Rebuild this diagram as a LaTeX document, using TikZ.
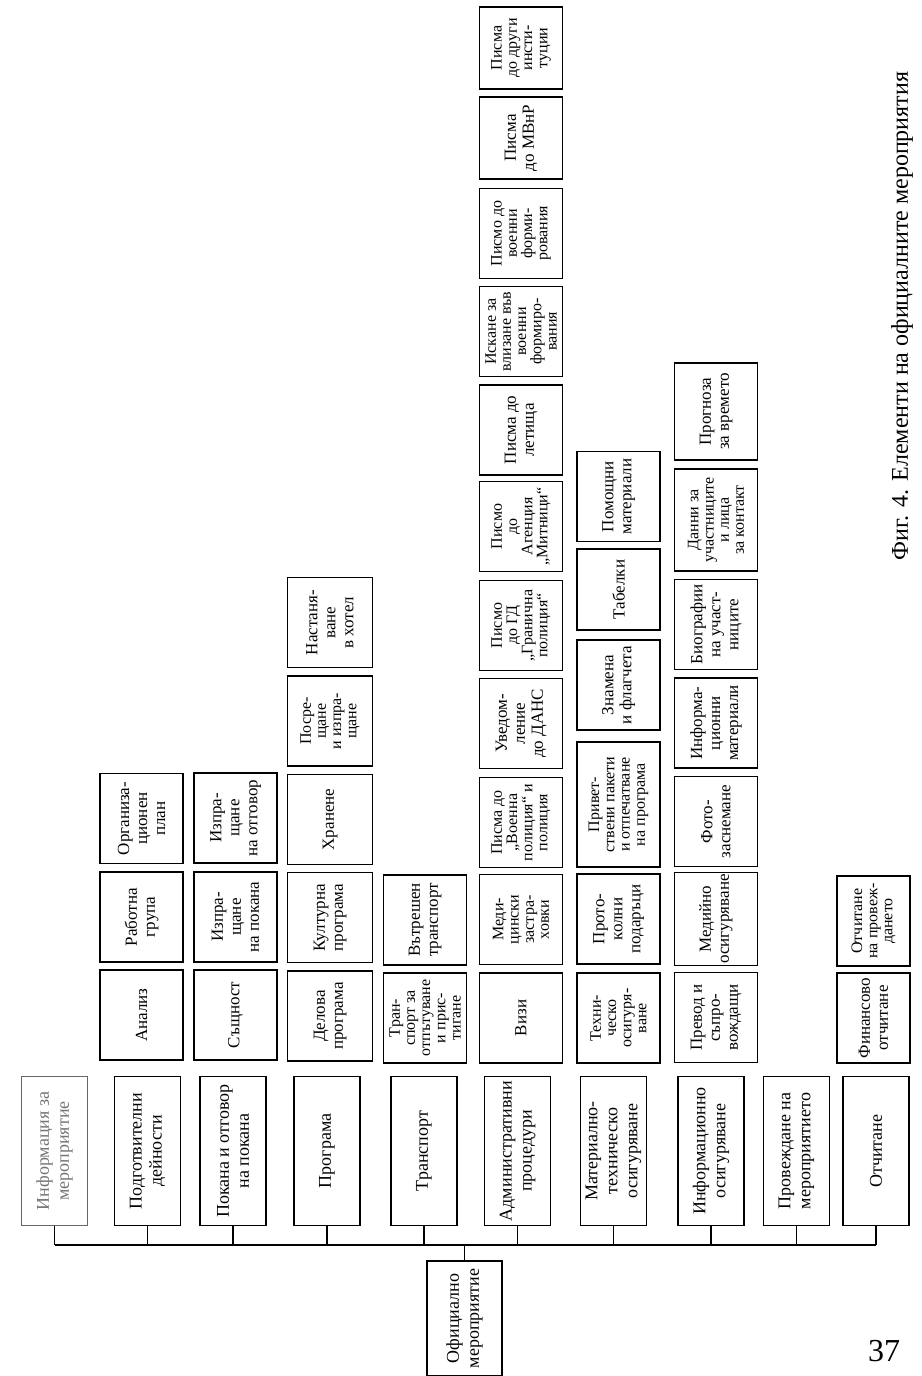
\documentclass[tikz,border=0pt]{standalone}
\usepackage{fontspec}
\setmainfont{Liberation Serif}
\begin{document}
\begin{tikzpicture}[
  x=0.5pt, y=-0.5pt,
  box/.style={draw, line width=0.7pt, rotate=90, align=center, inner sep=1pt},
  cat/.style={box, minimum width=74.5pt, minimum height=33pt, font=\fontsize{9}{10}\selectfont},
  sub/.style={box, minimum width=45pt, minimum height=41.5pt, font=\fontsize{8.5}{9}\selectfont},
  tight/.style={sub, font=\fontsize{8}{7.6}\selectfont},
  link/.style={line width=0.7pt},
]
  \useasboundingbox (0,0) rectangle (921,1376);

  % main elements
  \node[cat, draw=black!60, text=black!55] (c1) at (54.5,1151) {Информация за\\мероприятие};
  \node[cat] (c2)  at (147.5,1151) {Подготвителни\\дейности};
  \node[cat] (c3)  at (233,1151)   {Покана и отговор\\на покана};
  \node[cat] (c4)  at (327,1151)   {Програма};
  \node[cat] (c5)  at (424,1151)   {Транспорт};
  \node[cat] (c6)  at (517.5,1151) {Административни\\процедури};
  \node[cat] (c7)  at (613.5,1151) {Материално-\\техническо\\осигуряване};
  \node[cat] (c8)  at (711,1151)   {Информационно\\осигуряване};
  \node[cat] (c9)  at (796.5,1151) {Провеждане на\\мероприятието};
  \node[cat] (c10) at (876,1151)   {Отчитане};

  \node[cat, minimum width=57.5pt, minimum height=37.5pt] (root) at (464.5,1318.5) {Официално\\мероприятие};

  \coordinate (busl) at (54.5,1245);
  \coordinate (busr) at (876,1245);
  \draw[link] (busl) -- (busr);
  \draw[link] (root.east) -- (root.east |- busl);
  \foreach \i in {1,...,10} {
    \draw[link] (c\i.west) -- (c\i.west |- busl);
  }

  % preparatory activities
  \node[sub] (prep1) at (141.5,1015) {Анализ};
  \node[sub] (prep2) at (141.5,917)  {Работна\\група};
  \node[sub] (prep3) at (141.5,818.5) {Организа-\\ционен\\план};

  % invitation
  \node[sub] (inv1) at (235.5,1015) {Същност};
  \node[sub] (inv2) at (235.5,917)  {Изпра-\\щане\\на покана};
  \node[sub] (inv3) at (235.5,818)  {Изпра-\\щане\\на отговор};

  % programme
  \node[sub, minimum height=42.5pt] (prog1) at (330,1016)  {Делова\\програма};
  \node[sub, minimum height=42.5pt] (prog2) at (330,917.5) {Културна\\програма};
  \node[sub, minimum height=42.5pt] (prog3) at (330,819.5) {Хранене};
  \node[tight, minimum height=42.5pt] (prog4) at (330,721) {Посре-\\щане\\и изпра-\\щане};
  \node[sub, minimum height=42.5pt] (prog5) at (330,622.5) {Настаня-\\ване\\в хотел};

  % transport
  \node[tight] (tr1) at (425,1018) {Тран-\\спорт за\\отпътуване\\и прис-\\тигане};
  \node[sub]   (tr2) at (425,920)  {Вътрешен\\транспорт};

  % administrative procedures
  \node[sub]   (adm1)  at (521,1018)  {Визи};
  \node[tight] (adm2)  at (521,919.5) {Меди-\\цински\\застра-\\ховки};
  \node[tight] (adm3)  at (521,822.5) {Писма до\\„Военна\\полиция“ и\\полиция};
  \node[sub]   (adm4)  at (521,723.5) {Уведом-\\ление\\до ДАНС};
  \node[tight] (adm5)  at (521,625.5) {Писмо\\до ГД\\„Гранична\\полиция“};
  \node[tight] (adm6)  at (521,526.5) {Писмо\\до\\Агенция\\„Митници“};
  \node[sub]   (adm7)  at (521,430)   {Писма до\\летища};
  \node[tight] (adm8)  at (521,331.5) {Искане за\\влизане във\\военни\\формиро-\\вания};
  \node[tight] (adm9)  at (521,233.5) {Писмо до\\военни\\форми-\\рования};
  \node[sub, minimum width=41pt] (adm10) at (521,138) {Писма\\до МВнР};
  \node[tight, minimum width=41pt] (adm11) at (521,48) {Писма\\до други\\инсти-\\туции};

  % material and technical support
  \node[tight] (mat1) at (618.5,1018) {Техни-\\ческо\\осигуря-\\ване};
  \node[sub]   (mat2) at (618.5,919)  {Прото-\\колни\\подаръци};
  \node[tight, minimum width=62.5pt] (mat3) at (618.5,804.5) {Привет-\\ствени пакети\\и отпечатване\\на програма};
  \node[sub]   (mat4) at (618.5,685)  {Знамена\\и флагчета};
  \node[sub, minimum width=40.5pt] (mat5) at (618.5,589.5) {Табелки};
  \node[sub]   (mat6) at (618.5,496.5) {Помощни\\материали};

  % information support
  \node[sub]   (info1) at (716,1017.5) {Превод и\\съпро-\\вождащи};
  \node[sub]   (info2) at (716,919)    {Медийно\\осигуряване};
  \node[sub]   (info3) at (716,821.5)  {Фото-\\заснемане};
  \node[sub]   (info4) at (716,723)    {Информа-\\ционни\\материали};
  \node[sub]   (info5) at (716,624.5)  {Биографии\\на участ-\\ниците};
  \node[tight, minimum width=51pt] (info6) at (716,520) {Данни за\\участниците\\и лица\\за контакт};
  \node[sub, minimum width=48.5pt] (info7) at (716,411.5) {Прогноза\\за времето};

  % reporting
  \node[sub, minimum height=36.5pt] (rep1) at (873.5,1018) {Финансово\\отчитане};
  \node[tight, minimum height=36.5pt] (rep2) at (873.5,921) {Отчитане\\на провеж-\\дането};

  \node[rotate=90, font=\fontsize{12}{14}\selectfont] (caption) at (902,316) {Фиг. 4. Елементи на официалните мероприятия};
  \node[font=\fontsize{16}{18}\selectfont] (pagenum) at (884,1351) {37};
\end{tikzpicture}
\end{document}
